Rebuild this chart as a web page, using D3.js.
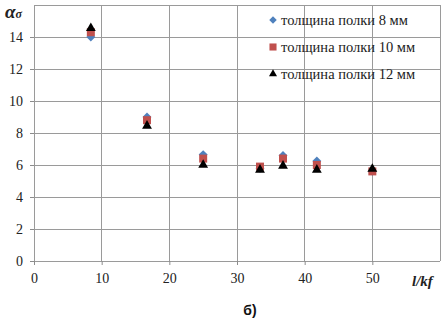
<!DOCTYPE html>
<html>
<head>
<meta charset="utf-8">
<script src="https://cdn.jsdelivr.net/npm/d3@7"></script>
<style>
  body { margin: 0; background: #fff; }
  svg { display: block; }
  svg text { font-family: 'Liberation Serif', 'Times New Roman', serif; }
</style>
</head>
<body>
<div id="chart"></div>
<script>
// data
var ratio = [8.4, 16.7, 25, 33.4, 36.8, 41.8, 50];
var flange8 = [14.0, 9.0, 6.65, 5.8, 6.6, 6.25, 5.6];
var flange10 = [14.3, 8.8, 6.4, 5.9, 6.4, 6.0, 5.6];
var flange12 = [14.55, 8.45, 6.0, 5.7, 5.95, 5.7, 5.75];
var seriesNames = ["толщина полки 8 мм", "толщина полки 10 мм", "толщина полки 12 мм"];
var xTicks = [0, 10, 20, 30, 40, 50];
var yTicks = [0, 2, 4, 6, 8, 10, 12, 14];

var W = 447, H = 319;
var margin = { top: 5, right: 7, bottom: 58, left: 34 };
var width = W - margin.left - margin.right;
var height = H - margin.top - margin.bottom;

var svg = d3.select("#chart").append("svg")
  .attr("width", W)
  .attr("height", H);

var g = svg.append("g")
  .attr("transform", "translate(" + margin.left + "," + margin.top + ")");

var x = d3.scaleLinear().domain([0, 60]).range([0, width]);
var y = d3.scaleLinear().domain([0, 16]).range([height, 0]);

// grid
g.append("g").selectAll("line.h")
  .data(d3.range(0, 17, 2))
  .join("line")
  .attr("x1", 0).attr("x2", width)
  .attr("y1", d => y(d)).attr("y2", d => y(d))
  .attr("stroke", "#9a9a9a").attr("shape-rendering", "crispEdges");

g.append("g").selectAll("line.v")
  .data(d3.range(0, 61, 10))
  .join("line")
  .attr("y1", 0).attr("y2", height)
  .attr("x1", d => x(d)).attr("x2", d => x(d))
  .attr("stroke", "#9a9a9a").attr("shape-rendering", "crispEdges");

// axes
var xAxis = d3.axisBottom(x).tickValues(xTicks).tickSize(4).tickPadding(8);
var yAxis = d3.axisLeft(y).tickValues(yTicks).tickSize(4).tickPadding(7);

function styleAxis(a) {
  a.attr("font-family", null).attr("font-size", 14);
  a.select(".domain").remove();
  a.selectAll(".tick line").attr("stroke", "#8c8c8c");
  a.selectAll(".tick text").attr("fill", "#222");
}

g.append("g")
  .attr("transform", "translate(0," + height + ")")
  .call(xAxis)
  .call(styleAxis);

g.append("g")
  .call(yAxis)
  .call(styleAxis);

// markers
var series = [
  { name: seriesNames[0], values: flange8, shape: d3.symbolSquare, size: 40, rot: 45, color: "#4f81bd" },
  { name: seriesNames[1], values: flange10, shape: d3.symbolSquare, size: 64, rot: 0, color: "#c0504d" },
  { name: seriesNames[2], values: flange12, shape: d3.symbolTriangle, size: 42, rot: 0, color: "#000000" }
];

series.forEach(function (s) {
  g.append("g").selectAll("path")
    .data(s.values)
    .join("path")
    .attr("transform", (d, i) => "translate(" + x(ratio[i]) + "," + y(d) + ") rotate(" + s.rot + ")")
    .attr("d", d3.symbol().type(s.shape).size(s.size))
    .attr("fill", s.color);
});

// legend
var legend = svg.append("g")
  .attr("transform", "translate(273,20)");

series.forEach(function (s, i) {
  var row = legend.append("g").attr("transform", "translate(0," + (i * 27) + ")");
  row.append("path")
    .attr("transform", "rotate(" + s.rot + ")")
    .attr("d", d3.symbol().type(s.shape).size(i == 1 ? 50 : 28))
    .attr("fill", s.color);
  row.append("text")
    .attr("x", 8).attr("y", 5)
    .attr("font-size", 14.5)
    .attr("fill", "#222")
    .text(s.name);
});

// axis titles
var yTitle = svg.append("text")
  .attr("x", 5).attr("y", 18)
  .attr("font-style", "italic").attr("font-weight", "bold")
  .attr("font-size", 19).attr("fill", "#222");
yTitle.append("tspan").text("α");
yTitle.append("tspan").attr("font-size", 12).text("σ");

svg.append("text")
  .attr("x", 412).attr("y", 286)
  .attr("font-style", "italic").attr("font-weight", "bold")
  .attr("font-size", 15).attr("fill", "#222")
  .text("l/kf");

svg.append("text")
  .attr("x", 250).attr("y", 315)
  .attr("text-anchor", "middle")
  .style("font-family", "'Liberation Sans', Arial, sans-serif")
  .attr("font-weight", "bold")
  .attr("font-size", 14).attr("fill", "#111")
  .text("б)");
</script>
</body>
</html>
